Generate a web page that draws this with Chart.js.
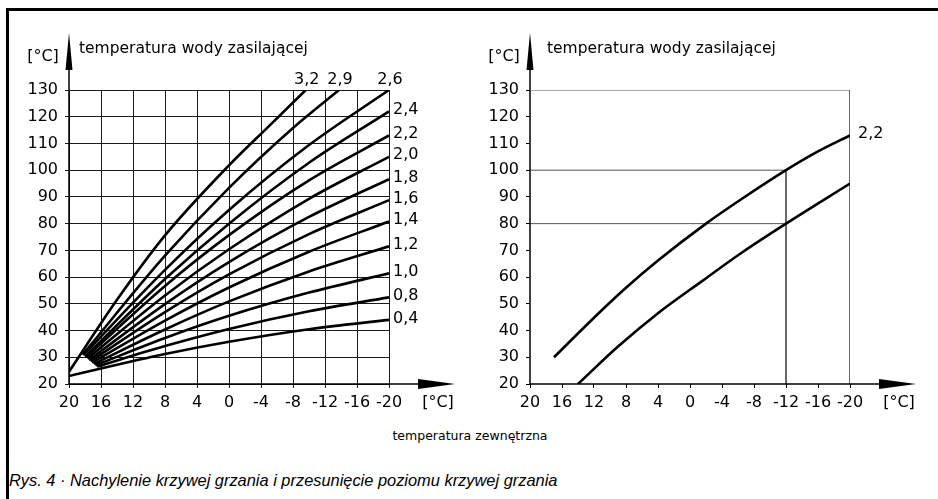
<!DOCTYPE html>
<html>
<head>
<meta charset="utf-8">
<script src="https://cdn.jsdelivr.net/npm/chart.js@4.4.1/dist/chart.umd.min.js"></script>
<style>
    html, body { margin: 0; padding: 0; background: #fff; }
    body { width: 938px; height: 499px; position: relative; overflow: hidden; font-family: "DejaVu Sans", sans-serif; color: #000; }
    #frame { position: absolute; left: 6px; top: 8px; width: 932px; height: 491px; border-left: 3px solid #000; border-top: 3px solid #000; }
    #leftChart { position: absolute; left: 0; top: 0; }
    #rightChart { position: absolute; left: 469px; top: 0; }
    #xTitle { position: absolute; left: 0; width: 940px; top: 428px; text-align: center; font-size: 12.5px; }
    #caption { position: absolute; left: 9px; top: 471px; font-family: "Liberation Sans", sans-serif; font-style: italic; font-size: 16.4px; white-space: nowrap; }
</style>
</head>
<body>
<div id="frame"></div>
<canvas id="leftChart" width="469" height="420"></canvas>
<canvas id="rightChart" width="469" height="420"></canvas>
<div id="xTitle">temperatura zewnętrzna</div>
<div id="caption">Rys. 4 · Nachylenie krzywej grzania i przesunięcie poziomu krzywej grzania</div>

<script>
// Axis ticks
const outdoorTicks = [20, 16, 12, 8, 4, 0, -4, -8, -12, -16, -20];
const flowTicks = [20, 30, 40, 50, 60, 70, 80, 90, 100, 110, 120, 130];

// Left chart: heating curves, [outdoor temp, flow temp]
const slope32 = [[20, 24.6], [14, 51.5], [8, 75.6], [0, 101.8], [-5, 116.5], [-9.6, 130]];
const slope29 = [[18.3, 31], [8, 68], [0, 93.4], [-8, 115.8], [-13.75, 130]];
const slope26 = [[18.2, 30.8], [8, 62.7], [0, 85.1], [-10, 109.4], [-20, 130]];
const slope24 = [[18, 30.3], [8, 59.3], [0, 80], [-10, 102.8], [-20, 122]];
const slope22 = [[17.9, 30], [8, 56.7], [0, 75.7], [-10, 96.2], [-20, 113]];
const slope20 = [[17.7, 29.5], [8, 53.1], [0, 70.4], [-10, 89.3], [-20, 105]];
const slope18 = [[17.5, 29], [8, 49.9], [0, 65.6], [-10, 82.5], [-20, 96.6]];
const slope16 = [[17.3, 28.5], [8, 46.9], [0, 61], [-10, 76.1], [-20, 88.8]];
const slope14 = [[17.1, 28], [8, 43.7], [0, 56.1], [-10, 69.5], [-20, 80.8]];
const slope12 = [[16.9, 27.5], [8, 40.4], [0, 50.9], [-10, 62.1], [-20, 71.5]];
const slope10 = [[16.7, 27], [8, 37.2], [0, 45.5], [-10, 54.2], [-20, 61.4]];
const slope08 = [[16.5, 26.5], [8, 34.2], [0, 40.6], [-10, 47.2], [-20, 52.4]];
const slope04 = [[20, 23], [8, 31.2], [0, 35.8], [-10, 40.5], [-20, 44]];

// Right chart: curve 2,2 and the same curve shifted down
const shiftUpper = [[17, 30], [12, 44.8], [8, 56], [4, 66.2], [-2, 80], [-6.5, 89.3], [-12, 100], [-16, 107], [-20, 113]];
const shiftLower = [[14, 20], [9, 34], [4, 46.5], [-1.5, 58.5], [-6.5, 69.2], [-12, 80], [-20, 95]];
const refFrame = [[20, 130], [-20, 130], [-20, 20]];
const ref100 = [[20, 100], [-12, 100], [-12, 20]];
const ref80 = [[20, 80], [-12, 80]];

const FONT = '"DejaVu Sans", sans-serif';

function curve(points, label, labelAt) {
    return {
        data: points.map(([x, y]) => ({ x, y })),
        curveLabel: label,
        labelAt: labelAt,
        borderColor: '#000',
        borderWidth: 2.6,
        pointRadius: 0,
        cubicInterpolationMode: 'monotone',
        fill: false
    };
}

function refLine(points) {
    return {
        data: points.map(([x, y]) => ({ x, y })),
        borderColor: '#555',
        borderWidth: 1,
        pointRadius: 0,
        tension: 0,
        fill: false
    };
}

// arrows, units, axis title and curve labels
const axisDecor = {
    id: 'axisDecor',
    afterDraw(chart, args, o) {
        const { ctx, chartArea: a } = chart;
        ctx.save();
        ctx.strokeStyle = '#000';
        ctx.fillStyle = '#000';
        ctx.lineWidth = 1.5;

        // y axis + arrow
        ctx.beginPath();
        ctx.moveTo(a.left, a.bottom);
        ctx.lineTo(a.left, 62);
        ctx.stroke();
        ctx.beginPath();
        ctx.moveTo(a.left, 33);
        ctx.lineTo(a.left - 3.5, 70);
        ctx.lineTo(a.left + 3.5, 70);
        ctx.closePath();
        ctx.fill();

        // x axis + arrow
        ctx.beginPath();
        ctx.moveTo(a.left, a.bottom);
        ctx.lineTo(a.right + 32, a.bottom);
        ctx.stroke();
        ctx.beginPath();
        ctx.moveTo(a.right + 66, a.bottom);
        ctx.lineTo(a.right + 29, a.bottom - 5);
        ctx.lineTo(a.right + 29, a.bottom + 5);
        ctx.closePath();
        ctx.fill();

        ctx.font = '16px ' + FONT;
        ctx.textAlign = 'center';
        ctx.textBaseline = 'middle';
        ctx.fillText('[°C]', a.left - 26, 57);
        ctx.fillText('[°C]', a.right + 49, a.bottom + 19);

        ctx.textAlign = 'left';
        ctx.font = '15.5px ' + FONT;
        ctx.fillText(o.title, a.left + o.titleDx, 49);

        ctx.font = '16px ' + FONT;
        chart.data.datasets.forEach((ds, i) => {
            if (!ds.curveLabel) return;
            const pts = chart.getDatasetMeta(i).data;
            const p = pts[pts.length - 1];
            if (ds.labelAt === 'top') {
                ctx.textAlign = 'center';
                ctx.textBaseline = 'alphabetic';
                ctx.fillText(ds.curveLabel, p.x + 1, a.top - 6);
            } else {
                ctx.textAlign = 'left';
                ctx.textBaseline = 'middle';
                ctx.fillText(ds.curveLabel, p.x + o.labelDx, p.y - 1.5);
            }
        });
        ctx.restore();
    }
};

function makeScales(gridOnArea, gridColor, yWidth) {
    const grid = { display: true, drawOnChartArea: gridOnArea, drawTicks: true, tickLength: 4, color: gridColor, lineWidth: 1 };
    return {
        x: {
            type: 'linear', reverse: true, min: -20, max: 20,
            afterFit: s => { s.height = 30; },
            afterBuildTicks: s => { s.ticks = outdoorTicks.map(v => ({ value: v })); },
            border: { display: false },
            grid: grid,
            ticks: { color: '#000', font: { family: FONT, size: 16 }, padding: 5, maxRotation: 0, autoSkip: false, callback: v => String(v) }
        },
        y: {
            type: 'linear', min: 20, max: 130,
            afterFit: s => { s.width = yWidth; },
            afterBuildTicks: s => { s.ticks = flowTicks.map(v => ({ value: v })); },
            border: { display: false },
            grid: grid,
            ticks: { color: '#000', font: { family: FONT, size: 16 }, padding: 7, autoSkip: false, callback: v => String(v) }
        }
    };
}

new Chart(document.getElementById('leftChart'), {
    type: 'line',
    data: {
        datasets: [
            curve(slope32, '3,2', 'top'),
            curve(slope29, '2,9', 'top'),
            curve(slope26, '2,6', 'top'),
            curve(slope24, '2,4', 'right'),
            curve(slope22, '2,2', 'right'),
            curve(slope20, '2,0', 'right'),
            curve(slope18, '1,8', 'right'),
            curve(slope16, '1,6', 'right'),
            curve(slope14, '1,4', 'right'),
            curve(slope12, '1,2', 'right'),
            curve(slope10, '1,0', 'right'),
            curve(slope08, '0,8', 'right'),
            curve(slope04, '0,4', 'right')
        ]
    },
    options: {
        responsive: false,
        animation: false,
        events: [],
        layout: { padding: { left: 0, top: 90, right: 80, bottom: 6 } },
        plugins: {
            legend: { display: false },
            tooltip: { enabled: false },
            axisDecor: { title: 'temperatura wody zasilającej', titleDx: 10, labelDx: 4 }
        },
        scales: makeScales(true, '#1a1a1a', 69)
    },
    plugins: [axisDecor]
});

new Chart(document.getElementById('rightChart'), {
    type: 'line',
    data: {
        datasets: [
            curve(shiftUpper, '2,2', 'right'),
            curve(shiftLower, null, null),
            refLine(refFrame),
            refLine(ref100),
            refLine(ref80)
        ]
    },
    options: {
        responsive: false,
        animation: false,
        events: [],
        layout: { padding: { left: 0, top: 90, right: 88, bottom: 6 } },
        plugins: {
            legend: { display: false },
            tooltip: { enabled: false },
            axisDecor: { title: 'temperatura wody zasilającej', titleDx: 17, labelDx: 8 }
        },
        scales: makeScales(false, '#000', 61)
    },
    plugins: [axisDecor]
});
</script>
</body>
</html>
